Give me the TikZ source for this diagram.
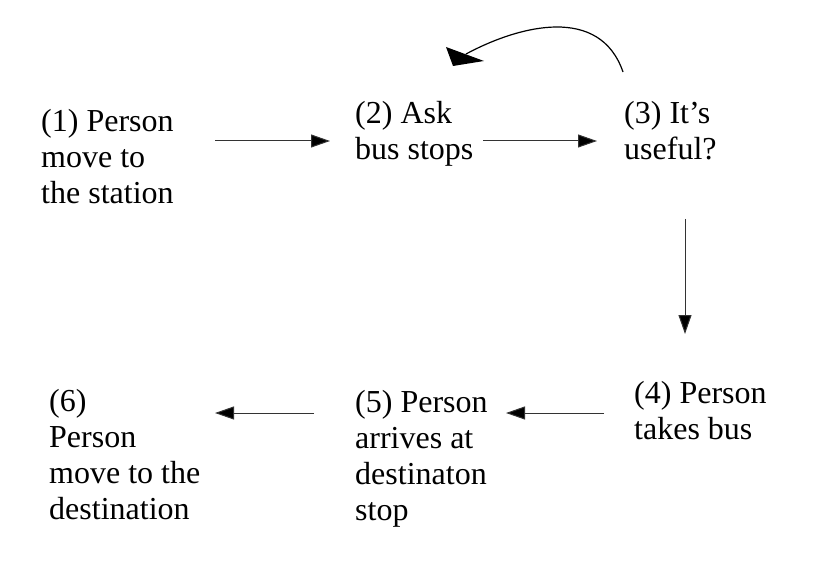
\documentclass[tikz,border=0pt]{standalone}
\usepackage{fontspec}
\setmainfont{Liberation Serif}
\usetikzlibrary{arrows.meta}
\begin{document}
\begin{tikzpicture}[x=1pt,y=-1pt,
  lbl/.style={anchor=north west,inner sep=0pt,align=left,
    font=\fontsize{32}{36}\selectfont},
  arr/.style={draw=black!80,line width=1pt,
    -{Triangle[length=19pt,width=13pt,fill=black]}}]
\useasboundingbox (0,0) rectangle (824,577);
\node[lbl] (n1) at (41,109) {(1) Person\\move to\\the station};
\node[lbl] (n2) at (355,101) {(2) Ask\\bus stops};
\node[lbl] (n3) at (624,101) {(3) It’s\\useful?};
\node[lbl] (n4) at (634,381) {(4) Person\\takes bus};
\node[lbl] (n5) at (355,390.5) {(5) Person\\arrives at\\destinaton\\stop};
\node[lbl] (n6) at (49,389) {(6)\\Person\\move to the\\destination};
\coordinate (a1s) at (215,141); \coordinate (a1e) at (330,141);
\coordinate (a2s) at (483,141); \coordinate (a2e) at (597,141);
\coordinate (a3s) at (685,219); \coordinate (a3e) at (685,334);
\coordinate (a4s) at (604,413); \coordinate (a4e) at (506,413);
\coordinate (a5s) at (314,413); \coordinate (a5e) at (215,413);
\draw[arr] (a1s) -- (a1e);
\draw[arr] (a2s) -- (a2e);
\draw[arr] (a3s) -- (a3e);
\draw[arr] (a4s) -- (a4e);
\draw[arr] (a5s) -- (a5e);
\coordinate (cs) at (623,72);
\coordinate (ce) at (466,54);
\draw[line width=1.2pt] (cs) .. controls (600,5) and (520,25) .. (ce);
\fill (446,47) -- (484,61) -- (453,66) -- cycle;
\end{tikzpicture}
\end{document}
